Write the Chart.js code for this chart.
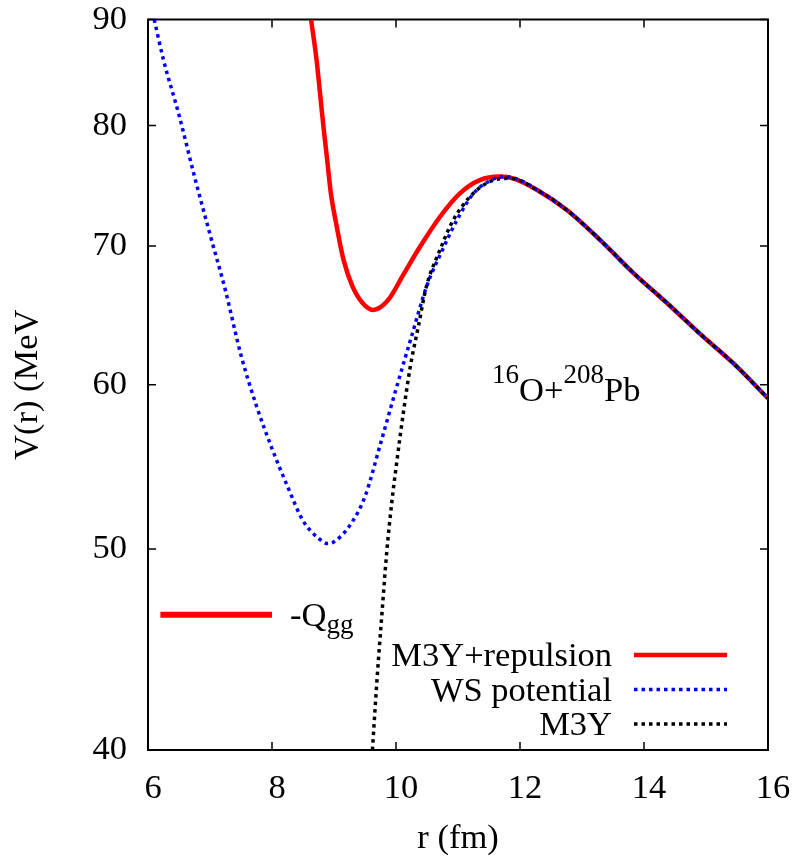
<!DOCTYPE html>
<html>
<head>
<meta charset="utf-8">
<script src="https://cdn.jsdelivr.net/npm/chart.js@4.4.1/dist/chart.umd.min.js"></script>
<style>
  html, body { margin: 0; padding: 0; background: #fff; }
</style>
</head>
<body>
<canvas id="chart" width="794" height="856"></canvas>
<script>
// ---- data (r in fm, V in MeV) ----
const X_TICKS = [6, 8, 10, 12, 14, 16];
const Y_TICKS = [40, 50, 60, 70, 80, 90];

const R_REP = [8.63, 8.72, 8.775, 8.83, 8.89, 8.95, 9.045, 9.155, 9.3, 9.46, 9.63, 9.87, 10.13, 10.39, 10.71, 11.03, 11.35, 11.68, 11.89, 12.27, 12.75, 13.29, 13.83, 14.37, 14.9, 15.44, 16.0];
const V_REP = [90, 86.0, 82.9, 79.9, 77.0, 74.2, 71.5, 68.9, 66.9, 65.7, 65.2, 65.9, 67.9, 69.95, 72.3, 74.2, 75.3, 75.6, 75.45, 74.5, 72.86, 70.47, 67.92, 65.7, 63.5, 61.45, 59.1];

const R_WS = [6.1, 6.25, 6.5, 6.75, 7.0, 7.25, 7.5, 7.75, 8.0, 8.25, 8.5, 8.75, 8.9, 9.0, 9.25, 9.5, 9.75, 10.0, 10.25, 10.5, 10.75, 11.0, 11.25, 11.5, 11.75, 12.0, 12.27, 12.75, 13.29, 13.83, 14.37, 14.9, 15.44, 16.0];
const V_WS = [90, 86.05, 80.95, 75.6, 70.9, 66.6, 62.0, 58.6, 55.9, 53.6, 51.6, 50.6, 50.3, 50.4, 51.3, 53.0, 56.2, 59.7, 63.3, 67.0, 69.7, 72.2, 74.2, 75.2, 75.6, 75.3, 74.5, 72.86, 70.47, 67.92, 65.7, 63.5, 61.45, 59.1];

const R_M3Y = [9.62, 9.69, 9.77, 9.85, 9.93, 10.01, 10.12, 10.23, 10.36, 10.49, 10.71, 10.92, 11.19, 11.52, 11.84, 12.27, 12.75, 13.29, 13.83, 14.37, 14.9, 15.44, 16.0];
const V_M3Y = [40, 43.1, 46.4, 49.8, 52.6, 55.0, 58.2, 61.2, 64.0, 66.9, 69.7, 72.0, 73.9, 75.2, 75.45, 74.5, 72.86, 70.47, 67.92, 65.7, 63.5, 61.45, 59.1];

const R_QGG = [6.2, 8.0];
const V_QGG = [46.48, 46.48];

const SERIF = "'Liberation Serif', 'Times New Roman', serif";
const FS = 34.5;   // main text size
const FS_SUB = 27; // sub/superscripts

const pts = (xs, ys) => xs.map((x, i) => ({ x, y: ys[i] }));

// frame, inward ticks, legend and text labels (gnuplot style)
const decor = {
  id: 'decor',
  beforeDatasetsDraw(chart) {
    const { ctx, chartArea: a, scales: { x, y } } = chart;
    ctx.save();
    ctx.strokeStyle = '#000';
    ctx.lineWidth = 1.5;
    ctx.beginPath();
    x.ticks.forEach(t => {
      const px = x.getPixelForValue(t.value);
      ctx.moveTo(px, a.bottom); ctx.lineTo(px, a.bottom - 8);
      ctx.moveTo(px, a.top); ctx.lineTo(px, a.top + 8);
    });
    y.ticks.forEach(t => {
      const py = y.getPixelForValue(t.value);
      ctx.moveTo(a.left, py); ctx.lineTo(a.left + 8, py);
      ctx.moveTo(a.right, py); ctx.lineTo(a.right - 8, py);
    });
    ctx.stroke();
    ctx.lineWidth = 2;
    ctx.strokeRect(a.left, a.top, a.right - a.left, a.bottom - a.top);
    ctx.restore();
  },
  afterDatasetsDraw(chart) {
    const { ctx, scales: { x, y } } = chart;
    ctx.save();
    ctx.fillStyle = '#000';
    ctx.textBaseline = 'alphabetic';

    // legend, bottom right
    let row = 0;
    chart.data.datasets.forEach(ds => {
      if (!ds.inLegend) return;
      const base = 666 + row * 34.5;
      ctx.font = `${FS}px ${SERIF}`;
      ctx.textAlign = 'right';
      ctx.fillText(ds.label, 612, base);
      ctx.beginPath();
      ctx.strokeStyle = ds.borderColor;
      ctx.lineWidth = ds.borderWidth;
      ctx.setLineDash(ds.borderDash || []);
      ctx.moveTo(634, base - 11);
      ctx.lineTo(727, base - 11);
      ctx.stroke();
      ctx.setLineDash([]);
      row++;
    });

    // runs of text with sub/superscripts
    const run = (x0, parts) => {
      ctx.textAlign = 'left';
      let cx = x0;
      parts.forEach(([txt, size, base]) => {
        ctx.font = `${size}px ${SERIF}`;
        ctx.fillText(txt, cx, base);
        cx += ctx.measureText(txt).width;
      });
    };

    const qx = x.getPixelForValue(8.0) + 18;
    const qy = y.getPixelForValue(46.48);
    run(qx, [['-Q', FS, qy + 11], ['gg', FS_SUB, qy + 18]]);

    const lx = x.getPixelForValue(11.55);
    const ly = y.getPixelForValue(58.94);
    run(lx, [['16', FS_SUB, ly - 18], ['O+', FS, ly], ['208', FS_SUB, ly - 18], ['Pb', FS, ly]]);
    ctx.restore();
  }
};

const tickFont = { family: SERIF, size: FS };

new Chart(document.getElementById('chart'), {
  type: 'line',
  data: {
    datasets: [
      {
        label: 'M3Y+repulsion', inLegend: true,
        data: pts(R_REP, V_REP),
        borderColor: '#ff0000', borderWidth: 4.5,
        pointRadius: 0, cubicInterpolationMode: 'monotone', order: 3,
      },
      {
        label: 'WS potential', inLegend: true,
        data: pts(R_WS, V_WS),
        borderColor: '#0000ff', borderWidth: 3.5, borderDash: [3.5, 4],
        pointRadius: 0, cubicInterpolationMode: 'monotone', order: 2,
      },
      {
        label: 'M3Y', inLegend: true,
        data: pts(R_M3Y, V_M3Y),
        borderColor: '#000000', borderWidth: 3.5, borderDash: [3.5, 4],
        pointRadius: 0, cubicInterpolationMode: 'monotone', order: 1,
      },
      {
        label: '-Qgg',
        data: pts(R_QGG, V_QGG),
        borderColor: '#ff0000', borderWidth: 6,
        pointRadius: 0, order: 4,
      },
    ]
  },
  options: {
    responsive: false,
    animation: false,
    layout: { padding: { top: 19.5, right: 26, left: 0, bottom: 0 } },
    plugins: { legend: { display: false }, tooltip: { enabled: false } },
    scales: {
      x: {
        type: 'linear', min: 6, max: 16,
        afterBuildTicks: s => { s.ticks = X_TICKS.map(v => ({ value: v })); },
        afterFit: s => { s.height = 106; s.paddingLeft = 0; s.paddingRight = 0; },
        grid: { display: false, drawTicks: false },
        border: { display: false },
        ticks: { font: tickFont, color: '#000', padding: 18, labelOffset: 5, maxRotation: 0, autoSkip: false, callback: v => String(v) },
        title: { display: true, text: 'r (fm)', color: '#000', font: { family: SERIF, size: FS, lineHeight: 1 }, padding: { top: 0, bottom: 0 } },
      },
      y: {
        type: 'logarithmic', min: 40, max: 90,
        afterBuildTicks: s => { s.ticks = Y_TICKS.map(v => ({ value: v })); },
        afterFit: s => { s.width = 148; s.paddingTop = 0; s.paddingBottom = 0; },
        grid: { display: false, drawTicks: false },
        border: { display: false },
        ticks: { font: tickFont, color: '#000', padding: 21, autoSkip: false, callback: v => String(v) },
        title: { display: true, text: 'V(r) (MeV', color: '#000', font: { family: SERIF, size: FS, lineHeight: 1 }, padding: { top: 11, bottom: 0 } },
      }
    }
  },
  plugins: [decor]
});
</script>
</body>
</html>
